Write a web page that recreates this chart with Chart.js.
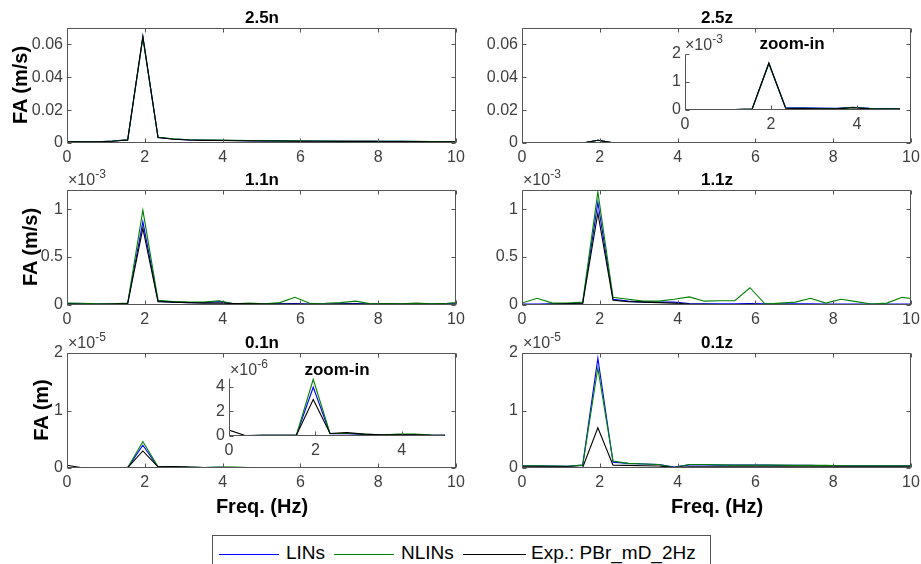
<!DOCTYPE html>
<html>
<head>
<meta charset="utf-8">
<script src="https://cdn.jsdelivr.net/npm/chart.js@4.4.1/dist/chart.umd.min.js"></script>
<style>
  body { margin: 0; background: #fff; }
  #fig { position: relative; width: 921px; height: 564px; overflow: hidden; font-family: "Liberation Sans", Arial, sans-serif; }
  #fig canvas { position: absolute; }
  .t { position: absolute; white-space: nowrap; }
  .title { font-weight: bold; font-size: 17px; color: #000; transform: translate(-50%, -50%); }
  .ylab { font-weight: bold; font-size: 20px; color: #000; transform: translate(-50%, -50%) rotate(-90deg); }
  .xlab { font-weight: bold; font-size: 20px; color: #000; transform: translate(-50%, -50%); }
  .expo { font-size: 16px; color: #404040; line-height: 16px; }
  .expo sup { font-size: 12px; vertical-align: 7px; line-height: 0; }
  #legend { position: absolute; left: 212px; top: 535px; width: 497px; height: 40px; border: 1px solid #555; background: #fff; }
  #legend .ln { position: absolute; top: 18px; height: 1px; }
  #legend .lt { position: absolute; top: 6px; font-size: 19px; line-height: 22px; color: #000; }
</style>
</head>
<body>
<div id="fig"></div>
<script>
// frequency bins (Hz)
const freq = [0, 0.39, 0.78, 1.17, 1.56, 1.95, 2.34, 2.73, 3.13, 3.52, 3.91, 4.30, 4.69, 5.08,
              5.47, 5.86, 6.25, 6.64, 7.03, 7.42, 7.81, 8.20, 8.59, 8.98, 9.38, 9.77, 10.16];

// 2.5n (m/s)
const lin25n  = [0.0009, 0.0008, 0.0008, 0.0012, 0.0019, 0.0645, 0.0034, 0.0024, 0.0019, 0.0017, 0.0016, 0.0015, 0.0014, 0.0013,
                 0.0013, 0.0012, 0.0012, 0.0011, 0.0011, 0.0011, 0.0011, 0.0010, 0.0010, 0.0009, 0.0009, 0.0008, 0.0008];
const nlin25n = [0.0009, 0.0008, 0.0008, 0.0012, 0.0019, 0.0640, 0.0035, 0.0026, 0.0020, 0.0018, 0.0018, 0.0017, 0.0015, 0.0014,
                 0.0013, 0.0013, 0.0012, 0.0012, 0.0011, 0.0011, 0.0011, 0.0010, 0.0010, 0.0010, 0.0009, 0.0009, 0.0008];
const exp25n  = [0.0008, 0.0007, 0.0007, 0.0011, 0.0018, 0.0650, 0.0033, 0.0023, 0.0018, 0.0016, 0.0015, 0.0014, 0.0013, 0.0012,
                 0.0012, 0.0011, 0.0011, 0.0011, 0.0010, 0.0010, 0.0010, 0.0009, 0.0009, 0.0009, 0.0008, 0.0008, 0.0008];

// 2.5z (m/s)
const lin25z  = [0.00002, 0.00002, 0.00002, 0.00002, 0.00003, 0.00167, 0.00009, 0.00008, 0.00007, 0.00006, 0.00010, 0.00006, 0.00005, 0.00004,
                 0.00004, 0.00003, 0.00003, 0.00003, 0.00003, 0.00003, 0.00003, 0.00003, 0.00003, 0.00003, 0.00003, 0.00003, 0.00003];
const nlin25z = [0.00002, 0.00002, 0.00002, 0.00002, 0.00003, 0.00165, 0.00007, 0.00006, 0.00005, 0.00005, 0.00009, 0.00005, 0.00004, 0.00004,
                 0.00003, 0.00003, 0.00003, 0.00003, 0.00003, 0.00003, 0.00003, 0.00002, 0.00002, 0.00002, 0.00002, 0.00002, 0.00002];
const exp25z  = [0.00002, 0.00002, 0.00002, 0.00002, 0.00003, 0.00168, 0.00006, 0.00005, 0.00004, 0.00004, 0.00008, 0.00004, 0.00003, 0.00003,
                 0.00003, 0.00002, 0.00002, 0.00002, 0.00002, 0.00002, 0.00002, 0.00002, 0.00002, 0.00002, 0.00002, 0.00002, 0.00002];

// 1.1n (m/s)
const lin11n  = [0.000015, 0.000012, 0.000010, 0.000010, 0.000015, 0.000870, 0.000040, 0.000030, 0.000025, 0.000025, 0.000035, 0.000010, 0.000012, 0.000010,
                 0.000012, 0.000015, 0.000010, 0.000010, 0.000012, 0.000015, 0.000010, 0.000012, 0.000010, 0.000012, 0.000010, 0.000012, 0.000015];
const nlin11n = [0.000020, 0.000018, 0.000012, 0.000012, 0.000020, 0.000990, 0.000050, 0.000035, 0.000030, 0.000030, 0.000045, 0.000012, 0.000020, 0.000012,
                 0.000025, 0.000080, 0.000015, 0.000018, 0.000025, 0.000040, 0.000012, 0.000015, 0.000012, 0.000020, 0.000012, 0.000018, 0.000030];
const exp11n  = [0.000010, 0.000008, 0.000008, 0.000010, 0.000015, 0.000800, 0.000035, 0.000030, 0.000025, 0.000020, 0.000020, 0.000015, 0.000012, 0.000010,
                 0.000010, 0.000010, 0.000008, 0.000008, 0.000010, 0.000010, 0.000008, 0.000008, 0.000008, 0.000008, 0.000008, 0.000008, 0.000008];

// 1.1z (m/s)
const lin11z  = [0.000010, 0.000010, 0.000012, 0.000015, 0.000020, 0.001070, 0.000060, 0.000040, 0.000030, 0.000030, 0.000030, 0.000015, 0.000012, 0.000012,
                 0.000012, 0.000015, 0.000012, 0.000012, 0.000012, 0.000012, 0.000010, 0.000010, 0.000010, 0.000010, 0.000010, 0.000010, 0.000010];
const nlin11z = [0.000020, 0.000070, 0.000020, 0.000020, 0.000030, 0.001180, 0.000080, 0.000060, 0.000040, 0.000040, 0.000060, 0.000085, 0.000040, 0.000045,
                 0.000045, 0.000180, 0.000010, 0.000020, 0.000030, 0.000070, 0.000020, 0.000060, 0.000035, 0.000010, 0.000020, 0.000080, 0.000060];
const exp11z  = [0.000005, 0.000005, 0.000008, 0.000012, 0.000015, 0.000960, 0.000050, 0.000035, 0.000030, 0.000025, 0.000020, 0.000010, 0.000008, 0.000006,
                 0.000006, 0.000008, 0.000006, 0.000006, 0.000005, 0.000005, 0.000005, 0.000005, 0.000005, 0.000004, 0.000004, 0.000004, 0.000004];

// 0.1n (m)
const lin01n  = [0.03e-6, 0.03e-6, 0.05e-6, 0.05e-6, 0.06e-6, 3.95e-6, 0.18e-6, 0.18e-6, 0.12e-6, 0.08e-6, 0.12e-6, 0.10e-6, 0.06e-6, 0.05e-6,
                 0.05e-6, 0.05e-6, 0.05e-6, 0.05e-6, 0.04e-6, 0.04e-6, 0.04e-6, 0.04e-6, 0.04e-6, 0.04e-6, 0.04e-6, 0.04e-6, 0.04e-6];
const nlin01n = [0.03e-6, 0.03e-6, 0.05e-6, 0.05e-6, 0.06e-6, 4.60e-6, 0.20e-6, 0.22e-6, 0.15e-6, 0.08e-6, 0.15e-6, 0.15e-6, 0.08e-6, 0.06e-6,
                 0.06e-6, 0.06e-6, 0.05e-6, 0.05e-6, 0.05e-6, 0.05e-6, 0.05e-6, 0.05e-6, 0.05e-6, 0.05e-6, 0.05e-6, 0.05e-6, 0.05e-6];
const exp01n  = [0.48e-6, 0.02e-6, 0.05e-6, 0.05e-6, 0.06e-6, 2.96e-6, 0.20e-6, 0.27e-6, 0.15e-6, 0.10e-6, 0.10e-6, 0.10e-6, 0.06e-6, 0.06e-6,
                 0.05e-6, 0.05e-6, 0.05e-6, 0.04e-6, 0.04e-6, 0.04e-6, 0.04e-6, 0.04e-6, 0.04e-6, 0.04e-6, 0.04e-6, 0.04e-6, 0.04e-6];

// 0.1z (m)
const lin01z  = [0.04e-5, 0.04e-5, 0.035e-5, 0.03e-5, 0.05e-5, 1.91e-5, 0.10e-5, 0.08e-5, 0.07e-5, 0.06e-5, 0.015e-5, 0.055e-5, 0.055e-5, 0.05e-5,
                 0.05e-5, 0.05e-5, 0.05e-5, 0.045e-5, 0.045e-5, 0.045e-5, 0.04e-5, 0.04e-5, 0.04e-5, 0.04e-5, 0.04e-5, 0.04e-5, 0.04e-5];
const nlin01z = [0.04e-5, 0.04e-5, 0.035e-5, 0.03e-5, 0.05e-5, 1.74e-5, 0.12e-5, 0.08e-5, 0.07e-5, 0.06e-5, 0.01e-5, 0.06e-5, 0.06e-5, 0.055e-5,
                 0.05e-5, 0.05e-5, 0.05e-5, 0.05e-5, 0.045e-5, 0.045e-5, 0.045e-5, 0.04e-5, 0.04e-5, 0.04e-5, 0.04e-5, 0.04e-5, 0.04e-5];
const exp01z  = [0.02e-5, 0.02e-5, 0.02e-5, 0.02e-5, 0.01e-5, 0.70e-5, 0.05e-5, 0.045e-5, 0.04e-5, 0.035e-5, 0.01e-5, 0.02e-5, 0.02e-5, 0.02e-5,
                 0.02e-5, 0.02e-5, 0.02e-5, 0.02e-5, 0.02e-5, 0.02e-5, 0.02e-5, 0.02e-5, 0.02e-5, 0.02e-5, 0.02e-5, 0.02e-5, 0.02e-5];

// tick values
const xTicksMain  = [0, 2, 4, 6, 8, 10];
const xTicksInset = [0, 2, 4];
const yTicks25    = [0, 0.02, 0.04, 0.06];
const yTicks11    = [0, 0.5e-3, 1e-3];
const yTicks01    = [0, 1e-5, 2e-5];
const yTicksIn25  = [0, 1e-3, 2e-3];
const yTicksIn01  = [0, 2e-6, 4e-6];

const seriesNames  = ['LINs', 'NLINs', 'Exp.: PBr_mD_2Hz'];
const seriesColors = ['#0000ff', '#008000', '#000000'];

Chart.defaults.font.family = '"Liberation Sans", Arial, sans-serif';
Chart.defaults.font.size = 16;
Chart.defaults.color = '#404040';

const fig = document.getElementById('fig');

// box + inward ticks, matlab style
const frame = {
  id: 'frame',
  beforeDatasetsDraw(chart, args, o) {
    if (!o.fill) return;
    const a = chart.chartArea;
    chart.ctx.save();
    chart.ctx.fillStyle = '#fff';
    chart.ctx.fillRect(a.left, a.top, a.right - a.left, a.bottom - a.top);
    chart.ctx.restore();
  },
  afterDraw(chart, args, o) {
    const ctx = chart.ctx, a = chart.chartArea;
    const x = chart.scales.x, y = chart.scales.y;
    const L = Math.round(a.left) + 0.5, R = Math.round(a.right) - 0.5;
    const T = Math.round(a.top) + 0.5, B = Math.round(a.bottom) - 0.5;
    ctx.save();
    ctx.strokeStyle = '#555';
    ctx.lineWidth = 1;
    ctx.beginPath();
    if (o.box) {
      ctx.rect(L, T, R - L, B - T);
    } else {
      ctx.moveTo(L, T); ctx.lineTo(L, B); ctx.lineTo(R, B);
    }
    x.ticks.forEach(t => {
      const px = Math.round(x.getPixelForValue(t.value)) + 0.5;
      ctx.moveTo(px, B); ctx.lineTo(px, B - 4);
      if (o.box) { ctx.moveTo(px, T); ctx.lineTo(px, T + 4); }
    });
    y.ticks.forEach(t => {
      const py = Math.round(y.getPixelForValue(t.value)) + 0.5;
      ctx.moveTo(L, py); ctx.lineTo(L + 4, py);
      if (o.box) { ctx.moveTo(R, py); ctx.lineTo(R - 4, py); }
    });
    ctx.stroke();
    ctx.restore();
  }
};

function panel(box, opt) {
  const padL = opt.padL || 70, padT = 14, padR = 18, padB = 30;
  const W = box.w + padL + padR, H = box.h + padT + padB;
  const cv = document.createElement('canvas');
  cv.width = W; cv.height = H;
  cv.style.width = W + 'px'; cv.style.height = H + 'px';
  cv.style.left = (box.l - padL) + 'px';
  cv.style.top = (box.t - padT) + 'px';
  fig.appendChild(cv);

  const order = [2, 1, 0];
  const datasets = opt.series.map((vals, i) => ({
    label: seriesNames[i],
    data: freq.map((f, k) => ({ x: f, y: vals[k] })),
    borderColor: seriesColors[i],
    borderWidth: 1.1,
    pointRadius: 0,
    tension: 0,
    fill: false,
    order: order[i]
  }));

  new Chart(cv, {
    type: 'line',
    data: { datasets },
    options: {
      responsive: false,
      animation: false,
      events: [],
      layout: { padding: { left: 0, top: padT, right: padR, bottom: 0 } },
      plugins: { legend: { display: false }, tooltip: { enabled: false }, frame: { box: opt.box, fill: opt.fill } },
      scales: {
        x: {
          type: 'linear', min: 0, max: opt.xMax,
          grid: { display: false, drawTicks: false }, border: { display: false },
          afterBuildTicks: s => { s.ticks = opt.xTicks.map(v => ({ value: v })); },
          afterFit: s => { s.height = padB; s.paddingLeft = 0; s.paddingRight = 0; },
          ticks: { padding: 5, autoSkip: false, maxRotation: 0, callback: v => String(v) }
        },
        y: {
          type: 'linear', min: 0, max: opt.yMax,
          grid: { display: false, drawTicks: false }, border: { display: false },
          afterBuildTicks: s => { s.ticks = opt.yTicks.map(v => ({ value: v })); },
          afterFit: s => { s.width = padL; s.paddingTop = 0; s.paddingBottom = 0; },
          ticks: { padding: 4, autoSkip: false, callback: opt.fmt }
        }
      }
    },
    plugins: [frame]
  });
}

const fmtScaled = sc => v => String(Math.round(v / sc * 10) / 10);
const fmt25 = v => v === 0 ? '0' : v.toFixed(2);

panel({ l: 67,  t: 28,  w: 389, h: 115 }, { xMax: 10, xTicks: xTicksMain, yMax: 0.07,   yTicks: yTicks25, fmt: fmt25, series: [lin25n, nlin25n, exp25n], box: true });
panel({ l: 522, t: 28,  w: 389, h: 115 }, { xMax: 10, xTicks: xTicksMain, yMax: 0.07,   yTicks: yTicks25, fmt: fmt25, series: [lin25z, nlin25z, exp25z], box: true });
panel({ l: 67,  t: 190, w: 389, h: 115 }, { xMax: 10, xTicks: xTicksMain, yMax: 1.2e-3, yTicks: yTicks11, fmt: fmtScaled(1e-3), series: [lin11n, nlin11n, exp11n], box: true });
panel({ l: 522, t: 190, w: 389, h: 115 }, { xMax: 10, xTicks: xTicksMain, yMax: 1.2e-3, yTicks: yTicks11, fmt: fmtScaled(1e-3), series: [lin11z, nlin11z, exp11z], box: true });
panel({ l: 67,  t: 353, w: 389, h: 115 }, { xMax: 10, xTicks: xTicksMain, yMax: 2e-5,   yTicks: yTicks01, fmt: fmtScaled(1e-5), series: [lin01n, nlin01n, exp01n], box: true });
panel({ l: 522, t: 353, w: 389, h: 115 }, { xMax: 10, xTicks: xTicksMain, yMax: 2e-5,   yTicks: yTicks01, fmt: fmtScaled(1e-5), series: [lin01z, nlin01z, exp01z], box: true });

// zoom-in insets
panel({ l: 685, t: 54,  w: 215, h: 56 }, { padL: 30, xMax: 5, xTicks: xTicksInset, yMax: 2e-3,   yTicks: yTicksIn25, fmt: fmtScaled(1e-3), series: [lin25z, nlin25z, exp25z], box: false, fill: true });
panel({ l: 229, t: 378, w: 216, h: 58 }, { padL: 30, xMax: 5, xTicks: xTicksInset, yMax: 4.7e-6, yTicks: yTicksIn01, fmt: fmtScaled(1e-6), series: [lin01n, nlin01n, exp01n], box: false, fill: true });

function text(cls, html, x, y) {
  const d = document.createElement('div');
  d.className = 't ' + cls;
  d.innerHTML = html;
  d.style.left = x + 'px';
  d.style.top = y + 'px';
  fig.appendChild(d);
}

// titles
text('title', '2.5n', 262, 18);
text('title', '2.5z', 717, 18);
text('title', '1.1n', 262, 180);
text('title', '1.1z', 717, 180);
text('title', '0.1n', 262, 343);
text('title', '0.1z', 717, 343);
text('title', 'zoom-in', 792, 44);
text('title', 'zoom-in', 337, 370);

// axis labels
text('ylab', 'FA (m/s)', 20, 85);
text('ylab', 'FA (m/s)', 30, 247);
text('ylab', 'FA (m)', 41, 410);
text('xlab', 'Freq. (Hz)', 262, 506);
text('xlab', 'Freq. (Hz)', 717, 506);

// exponent multipliers (baseline - 13)
text('expo', '&times;10<sup>-3</sup>', 68, 172);
text('expo', '&times;10<sup>-3</sup>', 523, 172);
text('expo', '&times;10<sup>-5</sup>', 68, 335);
text('expo', '&times;10<sup>-5</sup>', 523, 335);
text('expo', '&times;10<sup>-3</sup>', 685, 37);
text('expo', '&times;10<sup>-6</sup>', 230, 362);

// legend
const lg = document.createElement('div');
lg.id = 'legend';
const lineX = [6, 121, 250], lineW = [60, 60, 63], textX = [73, 188, 318];
seriesNames.forEach((n, i) => {
  const l = document.createElement('div');
  l.className = 'ln';
  l.style.left = lineX[i] + 'px';
  l.style.width = lineW[i] + 'px';
  l.style.background = seriesColors[i];
  lg.appendChild(l);
  const t = document.createElement('div');
  t.className = 'lt';
  t.style.left = textX[i] + 'px';
  t.textContent = n;
  lg.appendChild(t);
});
fig.appendChild(lg);
</script>
</body>
</html>
